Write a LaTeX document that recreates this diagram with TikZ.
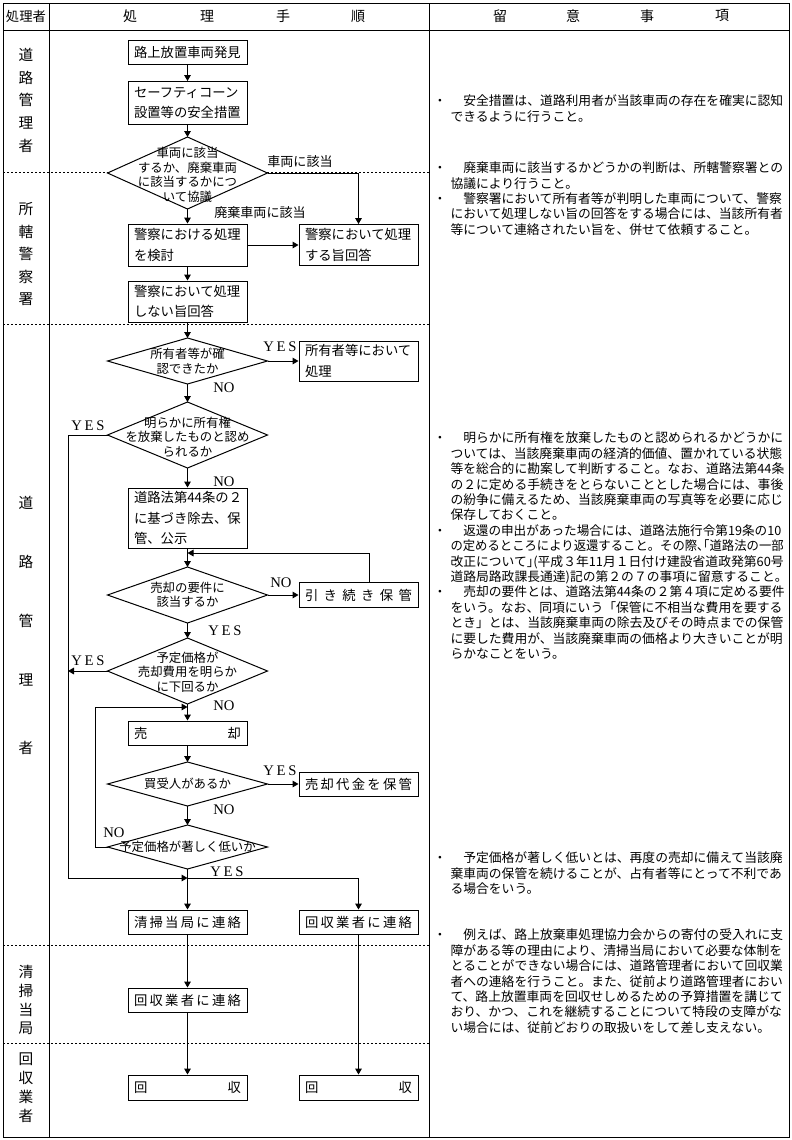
\documentclass[tikz,border=0pt]{standalone}
\usepackage{graphicx}
\usepackage{fontspec}
\setmainfont{Noto Sans CJK JP}
\newfontfamily\yesfont{Liberation Serif}
\usetikzlibrary{arrows.meta,shapes.geometric}
\begin{document}
\begin{tikzpicture}[x=0.75pt,y=-0.75pt,
  line width=0.75pt,
  arr/.style={-{Triangle[width=5pt,length=4.5pt]}},
  box/.style={draw,fill=white,text width=80.25pt,inner xsep=4.5pt,inner ysep=0pt,align=left,
     font=\fontsize{10pt}{15.4pt}\selectfont,anchor=center},
  dia/.style={draw,fill=white,diamond,minimum width=120pt,inner sep=0pt,outer sep=0pt},
  dtxt/.style={align=center,inner sep=0pt,font=\fontsize{9.3pt}{10.9pt}\selectfont},
  yn/.style={inner sep=0pt,font=\yesfont\fontsize{11pt}{11pt}\selectfont},
  lab/.style={inner sep=0pt,font=\fontsize{9.8pt}{11pt}\selectfont},
  side/.style={inner sep=0pt,font=\fontsize{11pt}{13pt}\selectfont},
  head/.style={inner sep=0pt,font=\fontsize{10.5pt}{12pt}\selectfont},
  note/.style={anchor=north west,inner sep=0pt,align=left,font=\fontsize{9.6pt}{11.55pt}\selectfont},
  sep/.style={dash pattern=on 1.5pt off 1.5pt, line width=0.6pt},
]
\useasboundingbox[fill=white] (0,0) rectangle (792,1140);
% table frame
\draw (3,3) rectangle (789,1137);
\draw (3,30) -- (789,30);
\draw (49,3) -- (49,1137);
\draw (429,3) -- (429,1137);
\draw[sep] (3,172) -- (429,172);
\draw[sep] (3,324) -- (429,324);
\draw[sep] (3,945) -- (429,945);
\draw[sep] (3,1043) -- (429,1043);

% header
\node[font=\fontsize{10pt}{12pt}\selectfont,inner sep=0pt] (h0) at (26,16) {処理者};
\node[head] (h1) at (130,16) {処};
\node[head] (h2) at (207,16) {理};
\node[head] (h3) at (283,16) {手};
\node[head] (h4) at (358,16) {順};
\node[head] (h5) at (500,16) {留};
\node[head] (h6) at (573,16) {意};
\node[head] (h7) at (647,16) {事};
\node[head] (h8) at (722,16) {項};

% side labels
\node[side] (sa1) at (26,55) {道};
\node[side] (sa2) at (26,78) {路};
\node[side] (sa3) at (26,100) {管};
\node[side] (sa4) at (26,123) {理};
\node[side] (sa5) at (26,146) {者};
\node[side] (sb1) at (26,209) {所};
\node[side] (sb2) at (26,232) {轄};
\node[side] (sb3) at (26,254) {警};
\node[side] (sb4) at (26,277) {察};
\node[side] (sb5) at (26,299) {署};
\node[side] (sc1) at (26,503) {道};
\node[side] (sc2) at (26,562) {路};
\node[side] (sc3) at (26,621) {管};
\node[side] (sc4) at (26,680) {理};
\node[side] (sc5) at (26,748) {者};
\node[side] (sd1) at (26,972) {清};
\node[side] (sd2) at (26,991) {掃};
\node[side] (sd3) at (26,1010) {当};
\node[side] (sd4) at (26,1028) {局};
\node[side] (se1) at (26,1059) {回};
\node[side] (se2) at (26,1078) {収};
\node[side] (se3) at (26,1097) {業};
\node[side] (se4) at (26,1116) {者};

% coordinates for loops
\coordinate (j1) at (187.5,878);
\coordinate (cL) at (68,878);
\coordinate (cY) at (68,671);
\coordinate (j2) at (187.5,707);
\coordinate (cN) at (95,707);
\coordinate (j3) at (187.5,553);

% flow nodes
\node[box,minimum height=18pt] (b1) at (187.5,52) {路上放置車両発見};
\node[box,minimum height=32.25pt] (b2) at (187.5,103) {セーフティコーン\\設置等の安全措置};
\node[dia,minimum height=54pt] (d1) at (187.5,173) {};
\node[dtxt] (t1) at (187.5,175) {車両に該当\\するか、廃棄車両\\に該当するかにつ\\いて協議};
\node[box,minimum height=31.5pt] (b3) at (187.5,245) {警察における処理\\を検討};
\node[box,minimum height=30.75pt] (b4) at (358.5,245) {警察において処理\\する旨回答};
\node[box,minimum height=30.75pt] (b5) at (187.5,301.5) {警察において処理\\しない旨回答};
\node[dia,minimum height=34.5pt] (d2) at (187.5,361) {};
\node[dtxt] (t2) at (187.5,361) {所有者等が確\\認できたか};
\node[box,minimum height=30pt] (b6) at (358.5,361) {所有者等において\\処理};
\node[dia,minimum height=49.5pt] (d3) at (187.5,435) {};
\node[dtxt] (t3) at (187.5,437) {明らかに所有権\\を放棄したものと認め\\られるか};
\node[box,minimum height=45pt] (b7) at (187.5,518) {道路法第44条の２\\に基づき除去、保\\管、公示};
\node[dia,minimum height=42pt] (d4) at (187.5,595) {};
\node[dtxt] (t4) at (187.5,595) {売却の要件に\\該当するか};
\node[box,minimum height=18.75pt] (b8) at (358.5,595) {\makebox[80.25pt]{引\hfill き\hfill 続\hfill き\hfill 保\hfill 管}};
\node[dia,minimum height=49.5pt] (d5) at (187.5,671) {};
\node[dtxt] (t5) at (187.5,672) {予定価格が\\売却費用を明らか\\に下回るか};
\node[box,minimum height=18pt] (b9) at (187.5,733) {\makebox[80.25pt]{売\hfill 却}};
\node[dia,minimum height=33pt] (d6) at (187.5,784) {};
\node[dtxt] (t6) at (187.5,784) {買受人があるか};
\node[box,minimum height=18pt] (b10) at (358.5,784) {\makebox[80.25pt]{売\hfill 却\hfill 代\hfill 金\hfill を\hfill 保\hfill 管}};
\node[dia,minimum height=33pt] (d7) at (187.5,847) {};
\node[dtxt] (t7) at (187.5,847) {予定価格が著しく低いか};
\node[box,minimum height=18pt] (b11) at (187.5,922) {\makebox[80.25pt]{清\hfill 掃\hfill 当\hfill 局\hfill に\hfill 連\hfill 絡}};
\node[box,minimum height=18pt] (b12) at (358.5,922) {\makebox[80.25pt]{回\hfill 収\hfill 業\hfill 者\hfill に\hfill 連\hfill 絡}};
\node[box,minimum height=18pt] (b13) at (187.5,1000) {\makebox[80.25pt]{回\hfill 収\hfill 業\hfill 者\hfill に\hfill 連\hfill 絡}};
\node[box,minimum height=18.75pt] (b14) at (187.5,1087.5) {\makebox[80.25pt]{回\hfill 収}};
\node[box,minimum height=18.75pt] (b15) at (358.5,1087.5) {\makebox[80.25pt]{回\hfill 収}};

% connectors
\draw[arr] (b1.south) -- (b2.north);
\draw[arr] (b2.south) -- (d1.north);
\draw[arr] (d1.east) -| (b4.north);
\draw[arr] (d1.south) -- (b3.north);
\draw[arr] (b3.east) -- (b4.west);
\draw[arr] (b3.south) -- (b5.north);
\draw[arr] (b5.south) -- (d2.north);
\draw[arr] (d2.east) -- (b6.west);
\draw[arr] (d2.south) -- (d3.north);
\draw[arr] (d3.west) -| (cL) -- (j1);
\draw[arr] (d3.south) -- (b7.north);
\draw[arr] (b7.south) -- (d4.north);
\draw[arr] ([xshift=8.6pt]b8.north) |- (j3);
\draw[arr] (d4.east) -- (b8.west);
\draw[arr] (d4.south) -- (d5.north);
\draw[arr] (d5.west) -- (cY);
\draw[arr] (d5.south) -- (b9.north);
\draw[arr] (b9.south) -- (d6.north);
\draw[arr] (d6.east) -- (b10.west);
\draw[arr] (d6.south) -- (d7.north);
\draw[arr] (d7.west) -| (cN) -- (j2);
\draw[arr] (d7.south) -- (b11.north);
\draw[arr] (j1) -| (b12.north);
\draw[arr] (b11.south) -- (b13.north);
\draw[arr] (b13.south) -- (b14.north);
\draw[arr] (b12.south) -- (b15.north);

% connector labels
\node[lab] (l1) at (300,162) {車両に該当};
\node[lab] (l2) at (260,213) {廃棄車両に該当};
\node[yn] (y1) at (280,347) {Y\hspace{2pt}E\hspace{2pt}S};
\node[yn] (n1) at (224,388) {NO};
\node[yn] (y2) at (88,426) {Y\hspace{2pt}E\hspace{2pt}S};
\node[yn] (n2) at (224,482) {NO};
\node[yn] (n3) at (281,583) {NO};
\node[yn] (y3) at (225,631) {Y\hspace{2pt}E\hspace{2pt}S};
\node[yn] (y4) at (88,661) {Y\hspace{2pt}E\hspace{2pt}S};
\node[yn] (n4) at (224,706) {NO};
\node[yn] (y5) at (280,771) {Y\hspace{2pt}E\hspace{2pt}S};
\node[yn] (n5) at (224,810) {NO};
\node[yn] (n6) at (114,833) {NO};
\node[yn] (y6) at (227,872) {Y\hspace{2pt}E\hspace{2pt}S};

% notes
\node[note] (r1) at (450,94.5) {\llap{・\kern3pt}　安全措置は、道路利用者が当該車両の存在を確実に認知\\
できるように行うこと。};
\node[note] (r2) at (450,161.5) {\llap{・\kern3pt}　廃棄車両に該当するかどうかの判断は、所轄警察署との\\
協議により行うこと。\\
\llap{・\kern3pt}　警察署において所有者等が判明した車両について、警察\\
において処理しない旨の回答をする場合には、当該所有者\\
等について連絡されたい旨を、併せて依頼すること。};
\node[note] (r3) at (450,431.5) {\llap{・\kern3pt}　明らかに所有権を放棄したものと認められるかどうかに\\
ついては、当該廃棄車両の経済的価値、置かれている状態\\
等を総合的に勘案して判断すること。なお、道路法第44条\\
の２に定める手続きをとらないこととした場合には、事後\\
の紛争に備えるため、当該廃棄車両の写真等を必要に応じ\\
保存しておくこと。\\
\llap{・\kern3pt}　\scalebox{0.985}[1]{返還の申出があった場合には、道路法施行令第19条の10}\\
\scalebox{0.965}[1]{の定めるところにより返還すること。その際､｢道路法の一部}\\
改正について｣(平成３年11月１日付け建設省道政発第60号\\
道路局路政課長通達)記の第２の７の事項に留意すること。\\
\llap{・\kern3pt}　売却の要件とは、道路法第44条の２第４項に定める要件\\
をいう。なお、同項にいう「保管に不相当な費用を要する\\
とき」とは、当該廃棄車両の除去及びその時点までの保管\\
に要した費用が、当該廃棄車両の価格より大きいことが明\\
らかなことをいう。};
\node[note] (r4) at (450,851.5) {\llap{・\kern3pt}　予定価格が著しく低いとは、再度の売却に備えて当該廃\\
棄車両の保管を続けることが、占有者等にとって不利であ\\
る場合をいう。};
\node[note] (r5) at (450,928.5) {\llap{・\kern3pt}　例えば、路上放棄車処理協力会からの寄付の受入れに支\\
障がある等の理由により、清掃当局において必要な体制を\\
とることができない場合には、道路管理者において回収業\\
者への連絡を行うこと。また、従前より道路管理者におい\\
て、路上放置車両を回収せしめるための予算措置を講じて\\
おり、かつ、これを継続することについて特段の支障がな\\
い場合には、従前どおりの取扱いをして差し支えない。};
\end{tikzpicture}
\end{document}
